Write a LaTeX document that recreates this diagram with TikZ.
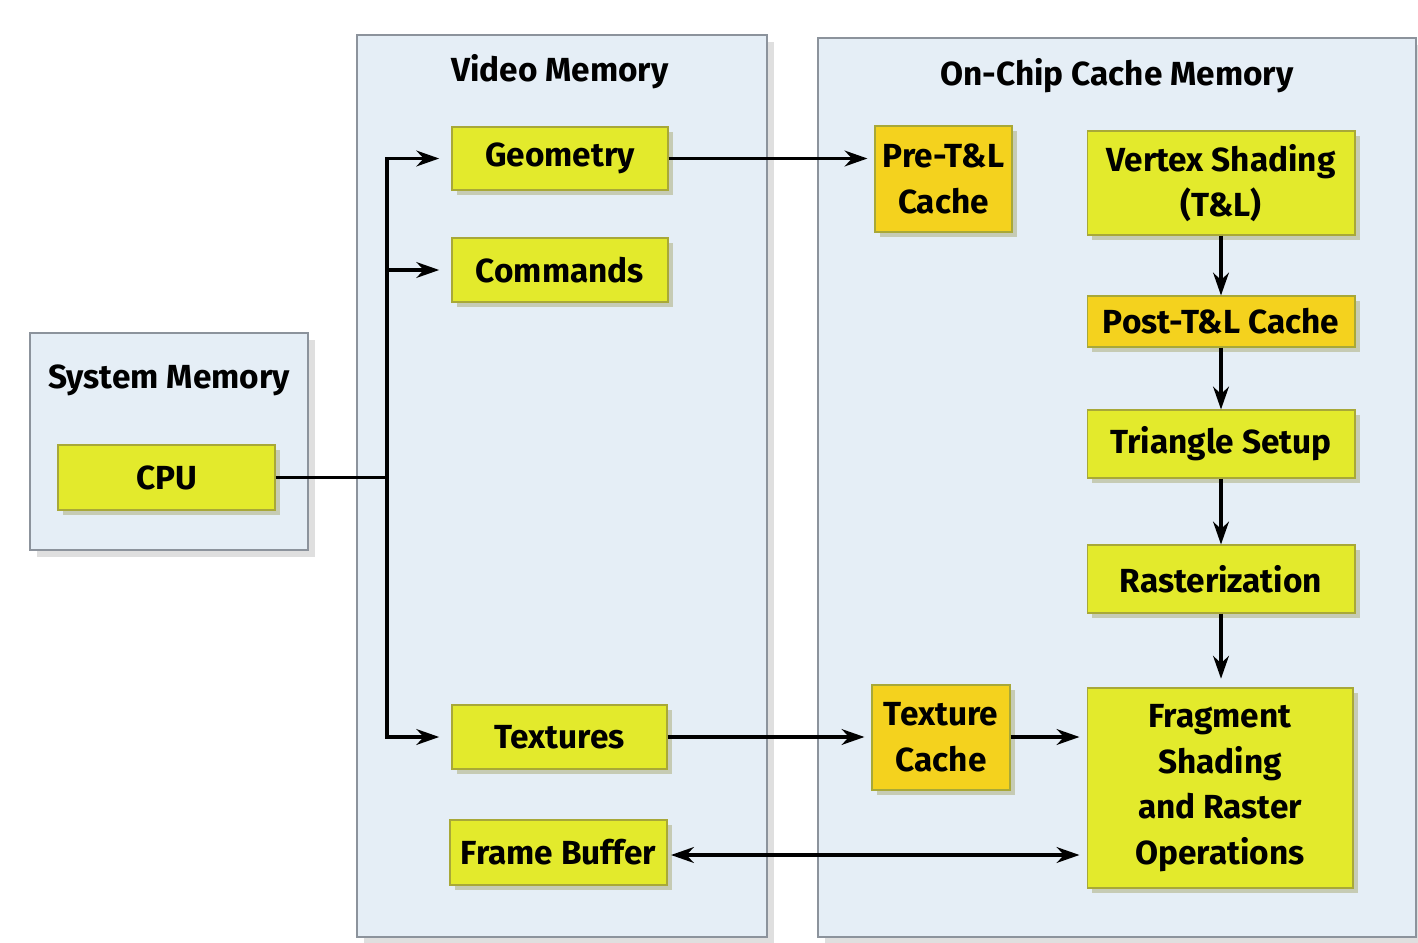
\documentclass[tikz,border=0pt]{standalone}
\usepackage{fontspec}
\setmainfont{Fira Sans}
\usetikzlibrary{arrows.meta,shadows}
\definecolor{panelfill}{HTML}{E5EEF6}
\definecolor{paneldraw}{HTML}{8C939C}
\definecolor{lime}{HTML}{E3EA2C}
\definecolor{gold}{HTML}{F4D21E}
\definecolor{limedraw}{HTML}{A8A838}
\tikzset{
  panel/.style={draw=paneldraw, line width=1pt, fill=panelfill, inner sep=0pt,
    drop shadow={shadow xshift=4pt, shadow yshift=-4pt, opacity=0.35, fill=gray!70}},
  boxbase/.style={draw=limedraw, line width=0.6pt, inner sep=0pt, align=center,
    font=\fontsize{19}{26}\selectfont\bfseries,
    drop shadow={shadow xshift=3pt, shadow yshift=-3pt, opacity=0.35, fill=olive!60!gray}},
  limebox/.style={boxbase, fill=lime},
  goldbox/.style={boxbase, fill=gold},
  title/.style={font=\fontsize{19}{22}\selectfont\bfseries, inner sep=0pt},
  tip/.style={},
  arr/.style={line width=1.9pt, -{Stealth[length=13pt,width=9pt]}},
  link/.style={line width=1.9pt},
}
\begin{document}
\begin{tikzpicture}[x=0.02cm,y=-0.02cm]
\useasboundingbox[fill=white] (0,0) rectangle (1418,943);
% panels
\node[panel, minimum width=5.56cm, minimum height=4.34cm] (sys) at (169,441.5) {};
\node[panel, minimum width=8.2cm, minimum height=18.04cm] (vid) at (562,486) {};
\node[panel, minimum width=11.96cm, minimum height=17.98cm] (chip) at (1117,487.5) {};
% titles
\node[title] (systitle) at (169,380) {System Memory};
\node[title] (vidtitle) at (560,72) {Video Memory};
\node[title] (chiptitle) at (1117,76) {On-Chip Cache Memory};
% boxes
\node[limebox, minimum width=4.34cm, minimum height=1.3cm] (cpu) at (166.5,477.5) {CPU};
\node[limebox, minimum width=4.32cm, minimum height=1.26cm] (geom) at (560,158.5) {Geometry};
\node[limebox, minimum width=4.32cm, minimum height=1.28cm] (comm) at (560,270) {Commands};
\node[limebox, minimum width=4.3cm, minimum height=1.28cm] (tex) at (559.5,737) {Textures};
\node[limebox, minimum width=4.34cm, minimum height=1.3cm] (fb) at (558.5,852.5) {Frame Buffer};
\node[goldbox, minimum width=2.74cm, minimum height=2.12cm] (pre) at (943.5,179) {Pre-T\&L\\Cache};
\node[limebox, minimum width=5.36cm, minimum height=2.08cm] (vs) at (1221,183) {Vertex Shading\\(T\&L)};
\node[goldbox, minimum width=5.36cm, minimum height=1.02cm] (post) at (1221,321.5) {Post-T\&L Cache};
\node[limebox, minimum width=5.36cm, minimum height=1.36cm] (tri) at (1221,444) {Triangle Setup};
\node[limebox, minimum width=5.36cm, minimum height=1.36cm] (ras) at (1221,579) {Rasterization};
\node[goldbox, minimum width=2.76cm, minimum height=2.1cm] (tc) at (941,737.5) {Texture\\Cache};
\node[limebox, minimum width=5.32cm, minimum height=4.0cm] (frag) at (1220,788) {Fragment\\Shading\\and Raster\\Operations};
% bus
\coordinate (bt) at (387,158.5);
\coordinate (bb) at (387,737);
\draw[link] (cpu.east) -- (cpu.east -| bt);
\draw[link, line cap=rect] (bt) -- (bb);
\draw[arr, shorten >=7pt] (bt) -- (geom.west);
\draw[arr, shorten >=7pt] (bt |- comm.west) -- (comm.west);
\draw[arr, shorten >=7pt] (bb) -- (tex.west);
% horizontal links
\draw[arr, shorten >=4pt] (geom.east |- bt) -- (pre.west |- bt);
\draw[arr, shorten >=4pt] (tex.east) -- (tc.west |- tex.east);
\draw[arr, shorten >=4pt] (tc.east |- tex.east) -- (frag.west |- tex.east);
\draw[line width=1.9pt, {Stealth[length=13pt,width=9pt]}-{Stealth[length=13pt,width=9pt]}, shorten >=4pt, shorten <=2pt] (fb.east |- 0,855) -- (frag.west |- 0,855);
% vertical pipeline
\draw[arr] (vs.south) -- (post.north);
\draw[arr] (post.south) -- (tri.north);
\draw[arr] (tri.south) -- (ras.north);
\draw[arr, shorten >=5pt] (ras.south) -- (ras.south |- frag.north);
\end{tikzpicture}
\end{document}
